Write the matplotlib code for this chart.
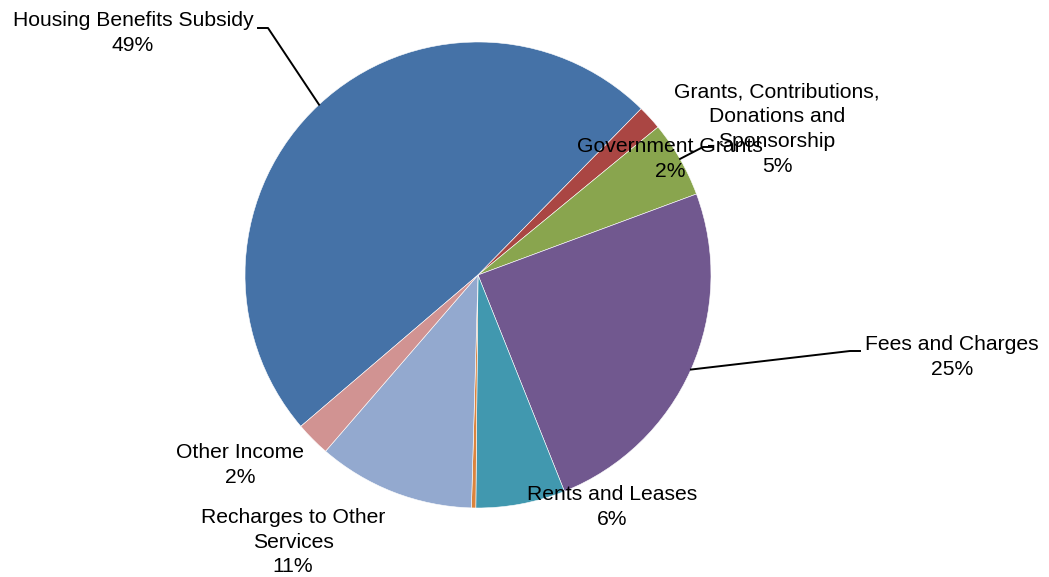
import numpy as np
import matplotlib.pyplot as plt

plt.rcParams['font.family'] = ['Liberation Sans', 'DejaVu Sans']

# income sources, clockwise from the lower left
categories = ["Housing Benefits Subsidy", "Government Grants",
              "Grants, Contributions,\nDonations and\nSponsorship",
              "Fees and Charges", "Rents and Leases", "Interest",
              "Recharges to Other\nServices", "Other Income"]
shares = [48.6, 1.7, 5.3, 24.6, 6.2, 0.3, 10.9, 2.4]
colors = ["#4572A7", "#AA4643", "#89A54E", "#71588F",
          "#4198AF", "#DB843D", "#93A9CF", "#D19392"]
show_label = [True, True, True, True, True, False, True, True]

# canvas in pixels, pie centre and radius
W, H = 1049, 577
CX, CY, R = 478, 275, 233


def px(x, y):
    """pixel position -> data units of the pie axes"""
    return (x - CX) / R, (CY - y) / R


# label centres (pixels)
label_pos = {
    0: (133, 33),
    1: (670, 159),
    2: (777, 129),
    3: (952, 357),
    4: (612, 507),
    6: (293, 542),
    7: (240, 465),
}
# leader line elbows: (elbow, end) in pixels
leaders = {
    0: [(268, 28), (258, 28)],
    2: [(703, 147), (712, 147)],
    3: [(850, 351), (860, 351)],
}

fig = plt.figure(figsize=(W / 100, H / 100), dpi=100)
ax = fig.add_axes([0, 0, 1, 1])

wedges, _ = ax.pie(shares, colors=colors, radius=1, center=(0, 0),
                   startangle=220.5, counterclock=False,
                   wedgeprops=dict(edgecolor='white', linewidth=0.4))

for i, pts in leaders.items():
    w = wedges[i]
    mid = np.deg2rad((w.theta1 + w.theta2) / 2)
    xs = [np.cos(mid)] + [px(*p)[0] for p in pts]
    ys = [np.sin(mid)] + [px(*p)[1] for p in pts]
    ax.plot(xs, ys, color='black', lw=1.4, zorder=3)

for i, (name, val) in enumerate(zip(categories, shares)):
    if not show_label[i]:
        continue
    x, y = px(*label_pos[i])
    ax.text(x, y, f"{name}\n{round(val):.0f}%", ha='center', va='center',
            fontsize=15.2, linespacing=1.38, zorder=4)

ax.set_xlim(-CX / R, (W - CX) / R)
ax.set_ylim(-(H - CY) / R, CY / R)
ax.set_aspect('auto')
ax.axis('off')

fig.savefig("out.png", dpi=100)
